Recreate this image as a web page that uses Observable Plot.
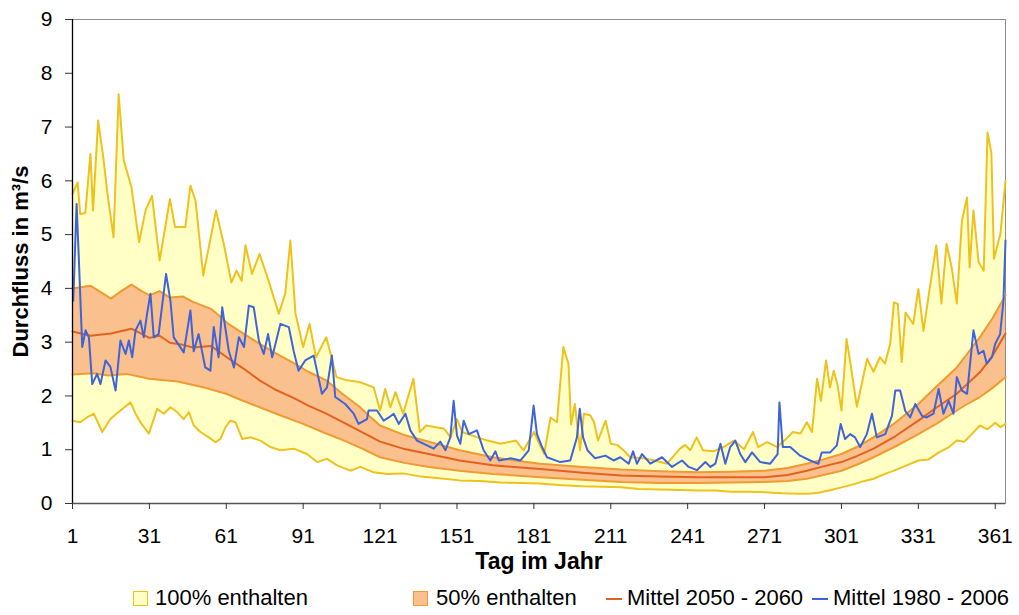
<!DOCTYPE html>
<html>
<head>
<meta charset="utf-8">
<script src="https://cdn.jsdelivr.net/npm/d3@7"></script>
<script src="https://cdn.jsdelivr.net/npm/@observablehq/plot@0.6"></script>
<style>
  html, body { margin: 0; padding: 0; background: #fff; }
  #wrap { width: 1019px; height: 615px; position: relative; overflow: hidden; font-family: "Liberation Sans", Arial, sans-serif; }
  #legend { position: absolute; left: 0; top: 580px; width: 1019px; height: 35px; font-size: 22px; color: #000; }
  .li { position: absolute; top: 6px; line-height: 24px; white-space: nowrap; }
  .sw { position: absolute; top: 11px; width: 15px; height: 15px; box-sizing: border-box; }
  .dash { position: absolute; top: 18px; width: 16px; height: 2px; }
</style>
</head>
<body>
<div id="wrap">
  <div id="chart"></div>
  <div id="legend"></div>
</div>
<script>
// ---------- data ----------
const dayTicks = [1, 31, 61, 91, 121, 151, 181, 211, 241, 271, 301, 331, 361];
const valueTicks = [0, 1, 2, 3, 4, 5, 6, 7, 8, 9];

const legendLabels = ["100% enthalten", "50% enthalten", "Mittel 2050 - 2060", "Mittel 1980 - 2006"];

// 100% range, upper bound [day, m3/s]
const max100 = [[1,5.76],[3,5.97],[4,5.38],[6,5.4],[8,6.5],[9,5.45],[11,7.12],[13,6.44],[14.5,5.82],[17,4.95],[19,7.61],[21,6.38],[24,5.88],[27,4.86],[29.5,5.45],[32,5.72],[35,4.52],[39,5.66],[41,5.14],[45,5.14],[47,5.91],[49,5.63],[52,4.24],[57,5.45],[60,4.83],[63,4.11],[65,4.33],[67,4.14],[68.5,4.8],[71,4.27],[74,4.64],[77.5,4.14],[81.5,3.53],[84,3.9],[86,4.89],[88,3.53],[91,2.91],[93.5,3.34],[96,2.72],[100,3.09],[104,2.35],[108,2.29],[113,2.26],[118.5,2.16],[121,1.73],[123,2.13],[125,1.79],[127,2.07],[130,1.67],[134,2.32],[136.5,1.33],[139,1.45],[146,1.39],[148.5,1.23],[151,1.57],[153,1.33],[159,1.23],[163,1.17],[168,1.11],[174,1.17],[177,0.99],[181,1.33],[185,0.92],[187.5,1.6],[190,1.51],[192.5,2.91],[194.5,2.6],[195.5,1.47],[197,1.85],[199,0.99],[200.5,1.67],[203,1.64],[204.5,1.51],[206,1.17],[209,1.54],[211,1.11],[213.5,1.09],[216,0.99],[218.5,0.86],[224,0.84],[228,0.8],[233,0.74],[238,1.02],[240,1.09],[242,0.99],[244.5,1.23],[247,0.99],[251,0.97],[255,1.05],[259,1.17],[263,1.01],[266.5,1.33],[268.5,1.05],[272,1.14],[276,1.05],[280,1.23],[282,1.33],[285,1.3],[287.5,1.51],[289.5,1.33],[291.5,2.32],[293,1.91],[295,2.66],[296.5,2.16],[298,2.47],[299.5,2.2],[301,1.73],[303,3.06],[305,2.45],[307,1.8],[311,2.69],[313.5,2.45],[316,2.72],[318,2.6],[320,2.97],[321.5,3.74],[323,3.71],[324.5,2.63],[326,3.55],[329,3.34],[331,3.99],[333,3.21],[335.5,4.02],[338,4.8],[340,3.72],[342,4.83],[344,4.39],[346,3.72],[348,5.26],[350,5.69],[351,4.39],[352.5,5.45],[354.5,4.49],[356.5,4.33],[358,6.9],[359.5,6.51],[360.5,4.55],[363,5.01],[365,6.0]];

// 100% range, lower bound
const min100 = [[1,1.54],[4,1.51],[6.7,1.6],[9.3,1.67],[12.6,1.33],[15.8,1.57],[19.7,1.73],[23.6,1.88],[25.6,1.67],[27.5,1.51],[30.8,1.3],[34,1.76],[36.6,1.67],[39.2,1.79],[41.8,1.7],[44.4,1.57],[46.4,1.7],[48.3,1.45],[50.9,1.33],[54.2,1.23],[56.8,1.14],[58.7,1.2],[60.7,1.42],[62.6,1.54],[64.6,1.51],[67.2,1.2],[70.4,1.23],[74.3,1.17],[78.2,1.05],[82.1,0.99],[87.3,1.02],[92.5,0.92],[96.4,0.77],[100.3,0.83],[104.2,0.71],[109.4,0.61],[113.3,0.68],[118.5,0.58],[123.7,0.55],[130,0.56],[137,0.5],[144,0.47],[152,0.43],[160,0.42],[168,0.39],[176,0.38],[183,0.37],[192,0.34],[200,0.32],[208,0.31],[215,0.3],[222,0.27],[230,0.26],[238,0.25],[245,0.24],[252,0.24],[258,0.22],[265,0.22],[271,0.21],[278,0.19],[284,0.18],[288,0.18],[292,0.2],[297,0.25],[301,0.3],[306,0.36],[310,0.42],[313.5,0.46],[318,0.55],[322,0.62],[326,0.7],[331,0.8],[335,0.82],[339,0.95],[343,1.05],[346,1.17],[349,1.15],[352,1.3],[355,1.45],[358,1.38],[361,1.5],[363,1.42],[365,1.48]];

// 50% range, upper bound
const upper50 = [[1,4.0],[8,4.05],[16,3.81],[20,3.95],[24,4.07],[28,3.95],[31,3.87],[35,3.95],[39,3.83],[44,3.85],[48,3.75],[55,3.62],[58,3.5],[61.5,3.35],[68,3.15],[74,2.97],[80,2.8],[87,2.62],[93,2.45],[100,2.29],[106,2.05],[113,1.8],[117,1.62],[121,1.45],[130,1.28],[140,1.15],[152,0.99],[165,0.86],[175,0.79],[183.5,0.74],[200,0.68],[215,0.63],[230,0.6],[245,0.58],[258,0.59],[271,0.61],[280,0.66],[287.5,0.74],[294,0.82],[301,0.92],[307,1.05],[313.5,1.23],[322,1.5],[331,1.85],[338,2.17],[346,2.53],[350,2.78],[355,3.09],[360,3.45],[365,3.87]];

// 50% range, lower bound
const lower50 = [[1,2.4],[9,2.42],[15,2.38],[22,2.41],[31,2.32],[42,2.27],[52,2.16],[61,2.04],[67,1.92],[74,1.79],[82,1.64],[91,1.48],[99,1.32],[107,1.17],[114,1.02],[121,0.86],[130,0.76],[140,0.68],[152,0.61],[165,0.55],[183.5,0.49],[200,0.44],[215,0.4],[230,0.38],[245,0.38],[258,0.39],[271,0.4],[280,0.42],[287.5,0.46],[294,0.53],[301,0.61],[307,0.72],[313.5,0.86],[322,1.06],[331,1.29],[338,1.48],[346,1.73],[350,1.85],[355,1.98],[360,2.15],[365,2.35]];

// Mittel 2050 - 2060
const mean2050 = [[1,3.2],[8,3.12],[16,3.16],[24,3.25],[31,3.08],[35,3.12],[39,2.99],[44,2.95],[48,2.9],[55,2.93],[61.5,2.71],[68,2.5],[74,2.29],[80,2.12],[87,1.97],[93,1.82],[100,1.67],[107,1.5],[113,1.35],[121,1.15],[130,1.02],[140,0.92],[152,0.8],[165,0.71],[183.5,0.64],[200,0.57],[215,0.52],[230,0.5],[245,0.49],[258,0.49],[271,0.49],[280,0.53],[287.5,0.61],[294,0.69],[301,0.77],[307,0.88],[313.5,1.02],[322,1.25],[331,1.54],[338,1.78],[346,2.04],[350,2.22],[355,2.44],[360,2.75],[363,3.0],[365,3.16]];

// Mittel 1980 - 2006
const mean1980 = [[1.3,3.77],[2.6,5.57],[3.5,4.52],[4.8,2.91],[6.1,3.22],[7.4,3.09],[8.7,2.22],[10.6,2.41],[11.9,2.22],[13.9,2.66],[15.8,2.54],[17.8,2.1],[19.7,3.03],[21.7,2.78],[23,3.03],[24.3,2.72],[25.6,3.22],[27.5,3.4],[28.8,3.09],[30.1,3.53],[31.4,3.9],[32.7,3.09],[34.6,3.15],[37.5,4.27],[39.2,3.77],[40.5,3.09],[44.4,2.81],[47,3.59],[48.3,2.83],[50.2,3.15],[52.8,2.53],[54.8,2.47],[56.1,3.28],[58,2.72],[59.4,3.65],[62,2.83],[64,2.53],[65.9,3.09],[67.9,2.91],[69.8,3.68],[71.7,3.65],[73.7,3.03],[75.6,2.78],[77.3,3.15],[78.9,2.72],[82.1,3.34],[85.4,3.28],[87.3,2.83],[89.2,2.47],[91.8,2.66],[95.1,2.75],[98.3,2.04],[100.3,2.16],[102.2,2.75],[103.5,1.98],[107.4,1.85],[110.7,1.67],[112.6,1.48],[115.9,1.57],[116.5,1.73],[119.8,1.73],[122.4,1.54],[124.4,1.6],[126.3,1.67],[128.3,1.48],[130.9,1.67],[132.8,1.36],[135.4,1.17],[139.3,1.08],[141.9,1.02],[144.5,1.15],[146.5,0.99],[148.4,1.23],[149.7,1.91],[151,1.26],[152.3,1.11],[153.6,1.54],[155.6,1.29],[158.8,1.36],[161.4,0.99],[164,0.8],[166,0.97],[167.3,0.8],[171.9,0.84],[175.8,0.8],[179,0.99],[180.9,1.82],[182.2,1.29],[184.2,1.05],[186.1,0.86],[191.3,0.77],[195.2,0.8],[197.8,1.23],[198.9,1.76],[200.2,1.23],[201.9,0.99],[204.9,0.84],[208.9,0.89],[212.1,0.8],[214.7,0.86],[218,0.74],[219.7,0.97],[221.2,0.74],[223.2,0.92],[226.4,0.74],[231,0.86],[234.9,0.68],[238.8,0.8],[241.4,0.68],[244.6,0.62],[247.9,0.77],[249.9,0.68],[251.8,0.74],[253.8,1.11],[255.7,0.74],[257.6,1.05],[259.6,1.17],[261.5,0.92],[263.5,0.77],[266.1,0.95],[269.3,0.77],[273.2,0.74],[276.1,0.92],[276.8,1.88],[278.1,1.05],[281,1.05],[284.9,0.89],[288.8,0.8],[292,0.74],[293.3,0.95],[296.6,0.95],[299.2,1.08],[300.7,1.48],[302.4,1.2],[304.4,1.29],[306.3,1.23],[308.3,1.05],[310.9,1.29],[312.9,1.67],[314.8,1.23],[318.1,1.29],[320.7,1.63],[322,2.1],[323.9,2.1],[325.9,1.72],[327.8,1.6],[329.8,1.85],[332.4,1.63],[334.3,1.6],[336.9,1.67],[338.9,2.13],[340.8,1.67],[342.8,1.91],[344.7,1.67],[346,2.35],[348,2.1],[350,2.04],[352.5,3.22],[354.5,2.78],[356.4,2.84],[357.7,2.6],[359.7,2.72],[361,2.97],[362.9,3.15],[364.2,3.77],[365,4.89]];

// ---------- style ----------
const C = {
  yellowFill: "#FFFFC6",
  yellowLine: "#EEC21C",
  orangeFill: "#FAC08E",
  orangeLine: "#F09A30",
  meanLine: "#E4621E",
  blue: "#3F63D9"
};

const X = d => d[0], Y = d => d[1];

const chart = Plot.plot({
  width: 1019,
  height: 580,
  marginLeft: 72,
  marginRight: 14,
  marginTop: 19,
  marginBottom: 77,
  style: { fontFamily: "'Liberation Sans', Arial, sans-serif", fontSize: "21px", color: "#000", background: "#fff", overflow: "visible" },
  x: { domain: [1, 365] },
  y: { domain: [0, 9] },
  marks: [
    Plot.areaY(max100, { x: X, y: Y, fill: C.yellowFill }),
    Plot.areaY(upper50, { x: X, y: Y, fill: C.orangeFill }),
    Plot.areaY(lower50, { x: X, y: Y, fill: C.yellowFill }),
    Plot.areaY(min100, { x: X, y: Y, fill: "#fff" }),
    Plot.frame({ stroke: "#8c8c8c" }),
    Plot.lineY(max100, { x: X, y: Y, stroke: C.yellowLine, strokeWidth: 2 }),
    Plot.lineY(min100, { x: X, y: Y, stroke: C.yellowLine, strokeWidth: 2 }),
    Plot.lineY(upper50, { x: X, y: Y, stroke: C.orangeLine, strokeWidth: 2 }),
    Plot.lineY(lower50, { x: X, y: Y, stroke: C.orangeLine, strokeWidth: 2 }),
    Plot.lineY(mean2050, { x: X, y: Y, stroke: C.meanLine, strokeWidth: 2 }),
    Plot.lineY(mean1980, { x: X, y: Y, stroke: C.blue, strokeWidth: 2 }),
    Plot.ruleX([1], { stroke: "#000", strokeWidth: 1.3 }),
    Plot.ruleY([0], { stroke: "#555", strokeWidth: 1.3 }),
    Plot.axisX(dayTicks, { tickSize: 6, tickPadding: 19, fontSize: 21, label: null, stroke: "#333", tickFormat: "d" }),
    Plot.axisY(valueTicks, { tickSize: 7, tickPadding: 13, fontSize: 21, label: null, stroke: "#333", tickFormat: "d" }),
    Plot.text(["Tag im Jahr"], { frameAnchor: "bottom", dy: 65, fontWeight: "bold", fontSize: 23, textAnchor: "middle" }),
    Plot.text(["Durchfluss in m³/s"], { frameAnchor: "left", dx: -52, rotate: -90, fontWeight: "bold", fontSize: 22, textAnchor: "middle" })
  ]
});
document.getElementById("chart").appendChild(chart);

// ---------- legend ----------
const legend = document.getElementById("legend");
const legendItems = [
  { kind: "box", fill: C.yellowFill, stroke: C.yellowLine, at: 133, textAt: 155 },
  { kind: "box", fill: C.orangeFill, stroke: C.orangeLine, at: 413, textAt: 436 },
  { kind: "dash", stroke: C.meanLine, at: 606, textAt: 627 },
  { kind: "dash", stroke: C.blue, at: 812, textAt: 833 }
];
legendItems.forEach((it, i) => {
  const s = document.createElement("div");
  if (it.kind === "box") {
    s.className = "sw";
    s.style.background = it.fill;
    s.style.border = "1.5px solid " + it.stroke;
  } else {
    s.className = "dash";
    s.style.background = it.stroke;
  }
  s.style.left = it.at + "px";
  legend.appendChild(s);
  const t = document.createElement("div");
  t.className = "li";
  t.style.left = it.textAt + "px";
  t.textContent = legendLabels[i];
  legend.appendChild(t);
});
</script>
</body>
</html>
